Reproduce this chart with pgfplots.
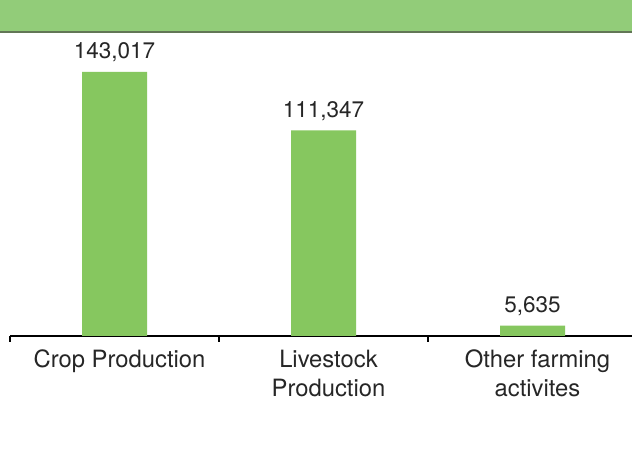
\documentclass[border=0pt]{standalone}
\usepackage{pgfplots}
\pgfplotsset{compat=1.18}
\usepackage{fontspec}
\setmainfont{TeX Gyre Heros}
\definecolor{bargreen}{RGB}{134,199,95}
\definecolor{bandgreen}{RGB}{146,204,121}
\definecolor{bandline}{RGB}{98,118,86}
\begin{document}
\begin{tikzpicture}[x=1bp,y=1bp]
\useasboundingbox (0,0) rectangle (632,450);
\clip (0,0) rectangle (632,450);
\fill[white] (0,0) rectangle (632,450);
\fill[bandgreen] (0,418) rectangle (632,450);
\draw[bandline, line width=1.8bp] (-5,418) -- (640,418);
\begin{axis}[
  at={(10bp,114bp)}, anchor=south west,
  scale only axis, width=627bp, height=295.35bp,
  xmin=-0.5, xmax=2.5, ymin=0, ymax=160000,
  axis x line*=bottom, axis y line=none,
  axis line style={black, line width=1.3bp},
  ybar, bar width=65bp, clip=false,
  xtick={0,1,2},
  xticklabels={Crop Production, Livestock\\Production, Other farming\\activites},
  xticklabel style={font=\fontsize{23.8bp}{28.5bp}\selectfont, align=center, anchor=north, inner sep=0pt, yshift=-14bp, xshift=5bp, text=black!85},
  major tick length=0pt,
  extra x ticks={-0.5,0.5,1.5,2.5},
  extra x tick labels={},
  extra x tick style={major tick length=6bp, tick align=outside, tick style={black, line width=1.2bp}},
  nodes near coords={\pgfmathprintnumber[fixed, precision=0, 1000 sep={,}, assume math mode=true]{\pgfplotspointmeta}},
  nodes near coords style={anchor=base, yshift=13bp, inner sep=0pt, font=\fontsize{22.5bp}{27bp}\selectfont, text=black!85},
]
\addplot[fill=bargreen, draw=none] coordinates {(0,143017) (1,111347) (2,5635)};
\end{axis}
\end{tikzpicture}
\end{document}
